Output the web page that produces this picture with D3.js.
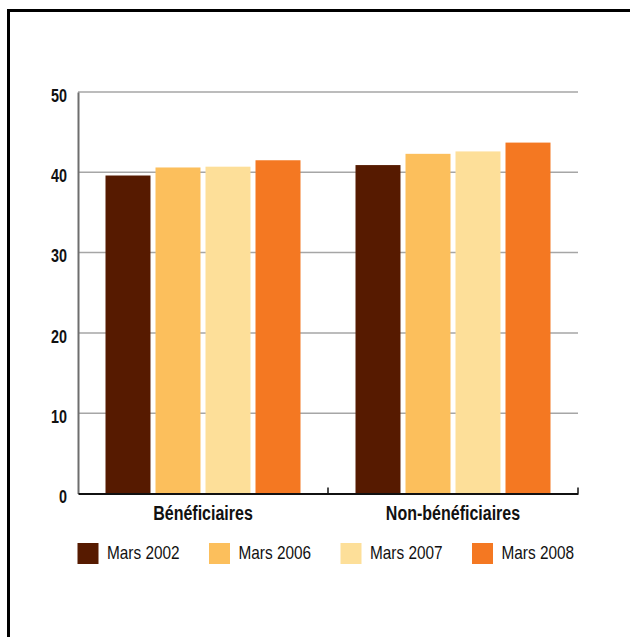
<!DOCTYPE html>
<html>
<head>
<meta charset="utf-8">
<script src="https://cdn.jsdelivr.net/npm/d3@7"></script>
<style>
  html, body { margin: 0; padding: 0; background: #fff; }
  svg { display: block; }
  text { font-family: "Liberation Sans", Arial, sans-serif; fill: #111; }
</style>
</head>
<body>
<svg id="chart" width="630" height="637"></svg>
<script>
const categories = ["Bénéficiaires", "Non-bénéficiaires"];
const seriesNames = ["Mars 2002", "Mars 2006", "Mars 2007", "Mars 2008"];
const beneficiaires = [39.6, 40.6, 40.7, 41.5];
const nonBeneficiaires = [40.9, 42.3, 42.6, 43.7];
const colors = ["#561a00", "#fcbf5c", "#fddf99", "#f47822"];
const yTicks = [0, 10, 20, 30, 40, 50];

const values = [beneficiaires, nonBeneficiaires];

const svg = d3.select("#chart");

// condense text to a measured width (the original uses a condensed face)
function condense(sel, factor) {
  sel.each(function () {
    const w = this.getComputedTextLength();
    d3.select(this).attr("textLength", w * factor).attr("lengthAdjust", "spacingAndGlyphs");
  });
}

// Frame
svg.append("rect")
  .attr("x", 8.5).attr("y", 10.5)
  .attr("width", 640).attr("height", 640)
  .attr("fill", "none").attr("stroke", "#000").attr("stroke-width", 3);

const mLeft = 78, mRight = 578, mTop = 92, mBottom = 493.5;

const y = d3.scaleLinear().domain([0, 50]).range([mBottom, mTop]);
const x0 = d3.scaleBand().domain(categories).range([mLeft, mRight]).paddingInner(0).paddingOuter(0);
const x1 = d3.scaleBand().domain(seriesNames).range([27.5, x0.bandwidth() - 27.5]).paddingInner(0.1).paddingOuter(0);

// Gridlines
svg.append("g")
  .selectAll("line")
  .data(yTicks.filter(d => d > 0))
  .join("line")
  .attr("x1", mLeft).attr("x2", mRight)
  .attr("y1", d => y(d)).attr("y2", d => y(d))
  .attr("stroke", "#a6a6a6").attr("stroke-width", 1.5);

// Bars
const groups = svg.append("g")
  .selectAll("g")
  .data(categories)
  .join("g")
  .attr("transform", d => `translate(${x0(d)},0)`);

groups.selectAll("rect")
  .data((d, i) => values[i].map((v, j) => ({ name: seriesNames[j], value: v, color: colors[j] })))
  .join("rect")
  .attr("x", d => x1(d.name))
  .attr("width", x1.bandwidth())
  .attr("y", d => y(d.value))
  .attr("height", d => y(0) - y(d.value))
  .attr("fill", d => d.color);

// Y axis
const yAxis = d3.axisLeft(y).tickValues(yTicks).tickSize(0).tickPadding(11).tickFormat(d3.format("d"));
const gy = svg.append("g").attr("transform", `translate(${mLeft},0)`).call(yAxis);
gy.select(".domain").attr("stroke", "#6e6e6e").attr("stroke-width", 2);
gy.selectAll("text")
  .attr("font-size", 17.5).attr("font-weight", "bold")
  .attr("dy", "0.52em")
  .style("font-family", '"Liberation Sans", Arial, sans-serif')
  .attr("fill", "#111")
  .call(condense, 0.82);

// X axis
const xAxis = d3.axisBottom(x0).tickSize(0).tickPadding(12);
const gx = svg.append("g").attr("transform", `translate(0,${mBottom})`).call(xAxis);
gx.select(".domain").attr("stroke", "#111").attr("stroke-width", 2);
gx.selectAll("text")
  .attr("font-size", 20).attr("font-weight", "bold")
  .style("font-family", '"Liberation Sans", Arial, sans-serif')
  .attr("fill", "#111")
  .call(condense, 0.8);

// Group separator ticks (pointing up)
svg.append("g")
  .selectAll("line")
  .data(categories)
  .join("line")
  .attr("x1", d => x0(d) + x0.bandwidth())
  .attr("x2", d => x0(d) + x0.bandwidth())
  .attr("y1", mBottom).attr("y2", mBottom - 6)
  .attr("stroke", "#111").attr("stroke-width", 1.5);

// Legend
const legend = svg.append("g")
  .selectAll("g")
  .data(seriesNames)
  .join("g")
  .attr("transform", (d, i) => `translate(${77.5 + i * 131.5},543)`);

legend.append("rect")
  .attr("width", 21).attr("height", 21)
  .attr("fill", (d, i) => colors[i]);

legend.append("text")
  .attr("x", 29.5).attr("y", 16)
  .attr("font-size", 18.5)
  .attr("fill", "#222")
  .text(d => d)
  .call(condense, 0.83);
</script>
</body>
</html>
